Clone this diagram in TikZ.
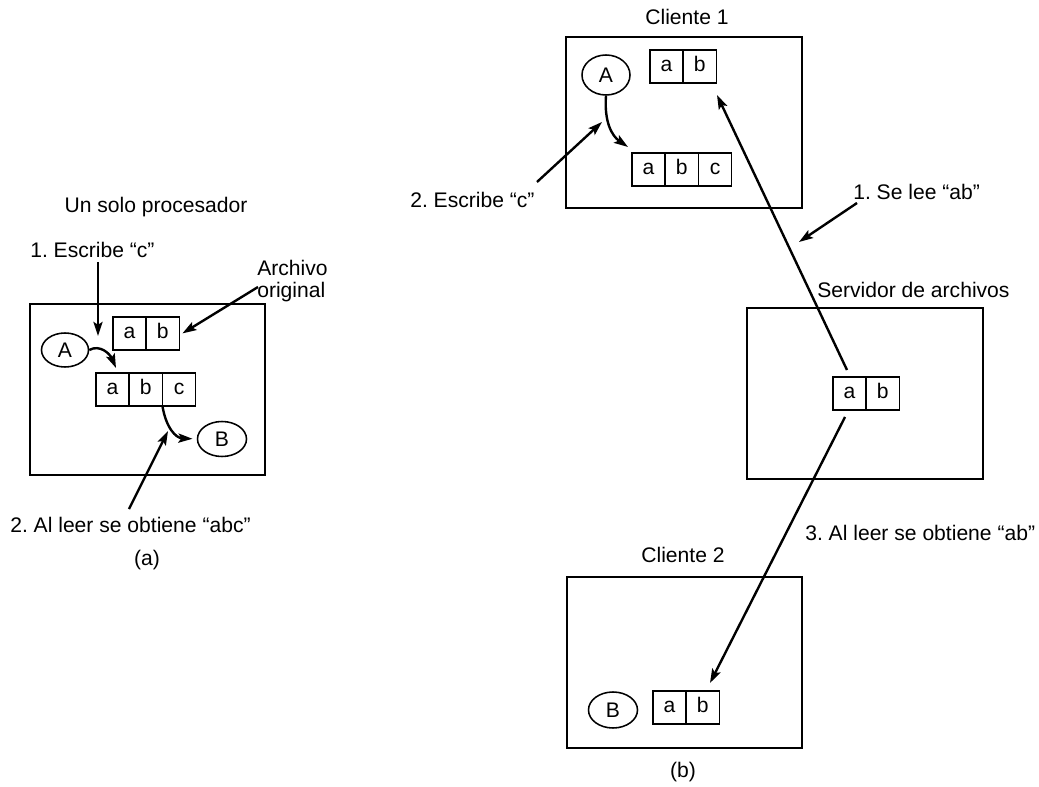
\documentclass[tikz,border=0pt]{standalone}
\usepackage{fontspec}
\setmainfont{Liberation Sans}
\frenchspacing
\usetikzlibrary{arrows.meta,positioning,shapes.geometric,calc}

\begin{document}
\begin{tikzpicture}[
    x=0.025cm, y=-0.025cm,
    lbl/.style={font=\fontsize{15}{15.6}\selectfont, inner sep=0pt},
    cell/.style={draw, line width=1.1pt, minimum width=0.83cm, minimum height=0.82cm,
                 inner sep=0pt, outer sep=0pt, text height=0.72em, text depth=0pt,
                 font=\fontsize{15}{15.6}\selectfont},
    proc/.style={draw, ellipse, line width=1.1pt, inner sep=0pt,
                 font=\fontsize{15}{15.6}\selectfont},
    frame/.style={line width=1.5pt},
    arr/.style={-{Stealth[length=10pt, width=6.5pt, inset=2pt]}, line width=1.7pt}
  ]
    \useasboundingbox (0,0) rectangle (1039,787);

    % (a) Un solo procesador
    \node[lbl] (tuno) at (156,207) {Un solo procesador};
    \node[lbl, anchor=west] (tesc) at (30,250) {1. Escribe “c”};
    \node[lbl, anchor=west, align=left] (tarch) at (257,281) {Archivo\\original};
    \draw[frame] (30,304) rectangle (265,475);

    \node[cell, anchor=north west] (aab1) at (113,317) {a};
    \node[cell, anchor=west] (aab2) at (aab1.east) {b};
    \node[proc, minimum width=1.175cm, minimum height=0.85cm] (aA) at (65,350) {A};
    \node[cell, anchor=north west] (aabc1) at (96,373) {a};
    \node[cell, anchor=west] (aabc2) at (aabc1.east) {b};
    \node[cell, anchor=west] (aabc3) at (aabc2.east) {c};
    \node[proc, minimum width=1.225cm, minimum height=0.875cm] (aB) at (222,439) {B};

    \node[lbl, anchor=west] (tleer) at (10,525) {2. Al leer se obtiene “abc”};
    \node[lbl] (ta) at (147,560) {(a)};

    \coordinate (e1s) at (98,262);
    \coordinate (e1t) at (98,336);
    \coordinate (aAt) at (116,368);
    \coordinate (e2s) at (129,509);
    \coordinate (e2t) at (168,431);
    \coordinate (e3s) at (258,287);

    \draw[arr] (e1s) -- (e1t);
    \draw[arr] (aA.east) .. controls (100,344) and (110,354) .. (aAt);
    \draw[arr] (e3s) -- ($(aab2.east)+(3,0)$);
    \draw[arr, shorten >=3pt] (aabc2.south east) .. controls (166,428) and (176,438) .. (aB.west);
    \draw[arr] (e2s) -- (e2t);

    % (b) Cliente 1
    \node[lbl] (tc1) at (687,17) {Cliente 1};
    \draw[frame] (566,37) rectangle (802,208);
    \node[proc, minimum width=1.2cm, minimum height=1.0cm] (bA) at (606,75) {A};
    \node[cell, anchor=north west] (c1ab1) at (650,50) {a};
    \node[cell, anchor=west] (c1ab2) at (c1ab1.east) {b};
    \node[cell, anchor=north west] (c1abc1) at (632,153) {a};
    \node[cell, anchor=west] (c1abc2) at (c1abc1.east) {b};
    \node[cell, anchor=west] (c1abc3) at (c1abc2.east) {c};
    \node[lbl, anchor=west] (tesc2) at (410,200) {2. Escribe “c”};

    % Servidor de archivos
    \node[lbl, anchor=west] (tsrv) at (817,290) {Servidor de archivos};
    \draw[frame] (747,308) rectangle (983,479);
    \node[cell, anchor=north west] (sab1) at (833,377) {a};
    \node[cell, anchor=west] (sab2) at (sab1.east) {b};
    \node[lbl, anchor=west] (tlee) at (853,192) {1. Se lee “ab”};

    % Cliente 2
    \node[lbl] (tc2) at (683,555) {Cliente 2};
    \draw[frame] (567,577) rectangle (802,748);
    \node[proc, minimum width=1.225cm, minimum height=0.9cm] (bB) at (613,710) {B};
    \node[cell, anchor=north west] (c2ab1) at (653,691) {a};
    \node[cell, anchor=west] (c2ab2) at (c2ab1.east) {b};
    \node[lbl, anchor=west] (tleer2) at (805,533) {3. Al leer se obtiene “ab”};
    \node[lbl] (tb) at (683,772) {(b)};

    \coordinate (bAt) at (628,147);
    \coordinate (f1s) at (537,182);
    \coordinate (f1t) at (602,122);
    \coordinate (f2s) at (857,203);
    \coordinate (f2t) at (799,242);
    \coordinate (rds) at (847,370);
    \coordinate (rdt) at (717,95);
    \coordinate (wrs) at (845,417);
    \coordinate (wrt) at (710,683);

    \draw[arr] (bA.south) .. controls (604,122) and (612,136) .. (bAt);
    \draw[arr] (f1s) -- (f1t);
    \draw[arr] (f2s) -- (f2t);
    \draw[arr] (rds) -- (rdt);
    \draw[arr] (wrs) -- (wrt);
\end{tikzpicture}
\end{document}
